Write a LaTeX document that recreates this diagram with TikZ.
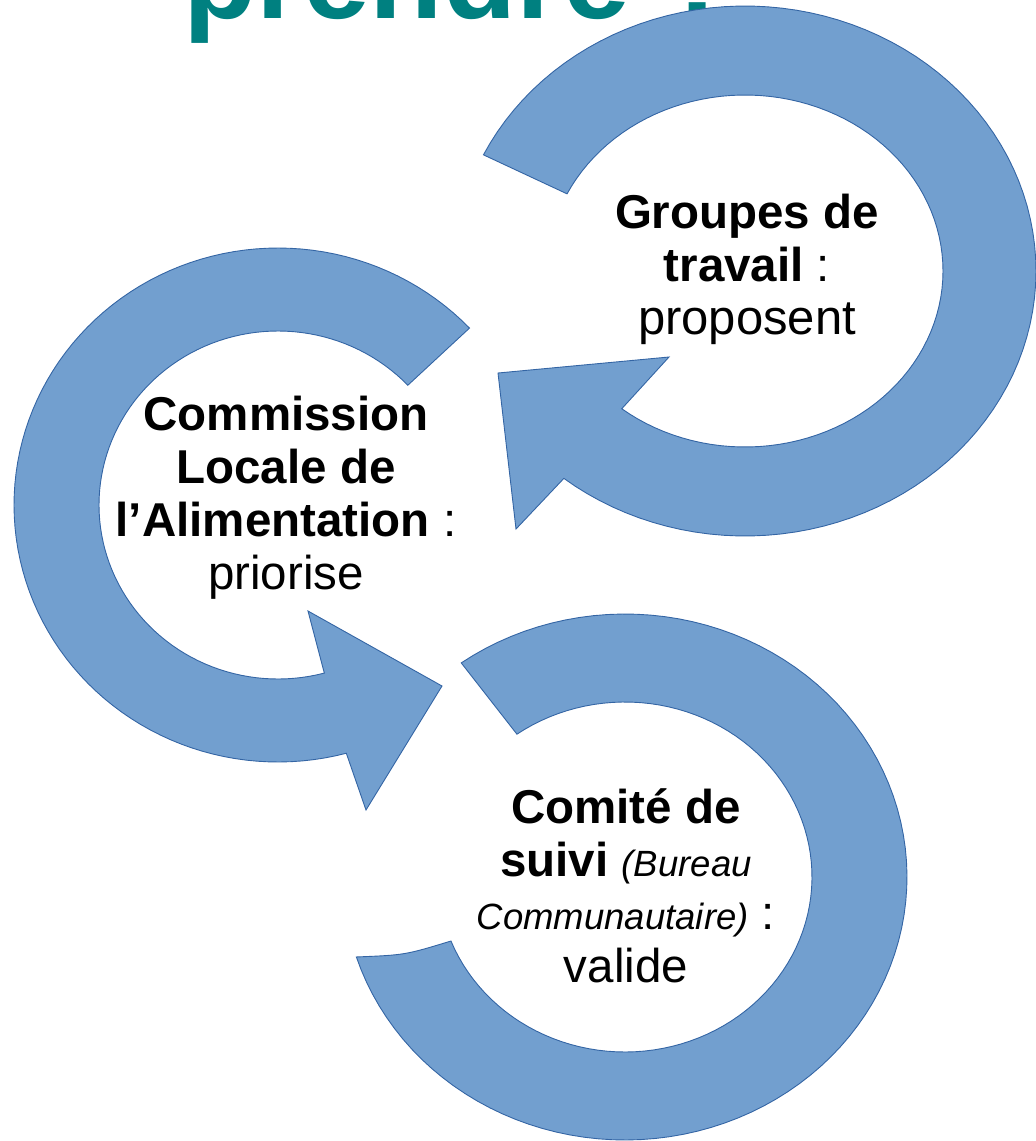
\documentclass[tikz,border=0pt]{standalone}
\usepackage{fontspec}
\setmainfont{Liberation Sans}
\definecolor{arrowblue}{RGB}{114,159,207}
\definecolor{arrowline}{RGB}{52,101,164}
\definecolor{titleteal}{RGB}{0,128,128}
\tikzset{
  arrowshape/.style={fill=arrowblue, draw=arrowline, line width=0.9, line join=miter},
  textnode/.style={align=center, font=\fontsize{47.5}{53}\selectfont, inner sep=0pt},
  titlenode/.style={font=\fontsize{120}{130}\selectfont\bfseries, text=titleteal, inner sep=0pt, anchor=base west}
}
\begin{document}
\begin{tikzpicture}[x=1pt,y=-1pt]
\useasboundingbox (0,0) rectangle (1036,1141);
\clip (0,0) rectangle (1036,1141);
% title (cut by the top edge)
\node[titlenode] (title) at (183,18) {prendre ?};
% arrow 1: Groupes de travail
\path[arrowshape] plot[domain=-154:128.5,samples=100] ({745+291*cos(\x)},{271+265*sin(\x)})
  -- (516,529) -- (498,373) -- (669,357)
  -- plot[domain=128.5:-154,samples=100] ({745+198*cos(\x)},{271+176*sin(\x)}) -- cycle;
% arrow 2: Commission Locale
\path[arrowshape] plot[domain=-43.5:-285,samples=100] ({278+264*cos(\x)},{505+257*sin(\x)})
  -- (366,810) -- (442,686) -- (308,611)
  -- plot[domain=-285:-43.5,samples=100] ({278+179*cos(\x)},{505+174*sin(\x)}) -- cycle;
% arrow 3: Comite de suivi
\path[arrowshape] plot[domain=-125.5:162.3,samples=100] ({625+282*cos(\x)},{877+263*sin(\x)})
  .. controls (405,955) .. (451,941)
  -- plot[domain=158.6:-125.3,samples=100] ({625+187*cos(\x)},{877+175*sin(\x)}) -- cycle;
% texts
\node[textnode] (groupes) at (747,269) {\textbf{Groupes de}\\\textbf{travail} :\\{\fontsize{49}{53}\selectfont proposent}};
\node[textnode] (commission) at (286,498) {\textbf{Commission}\\\textbf{Locale de}\\\textbf{l’Alimentation} :\\priorise};
\node[textnode] (comite) at (626,886) {\textbf{Comité de}\\\textbf{suivi} {\fontsize{36.5}{53}\selectfont\itshape (Bureau}\\{\fontsize{36.5}{53}\selectfont\itshape Communautaire)} :\\valide};
\end{tikzpicture}
\end{document}
